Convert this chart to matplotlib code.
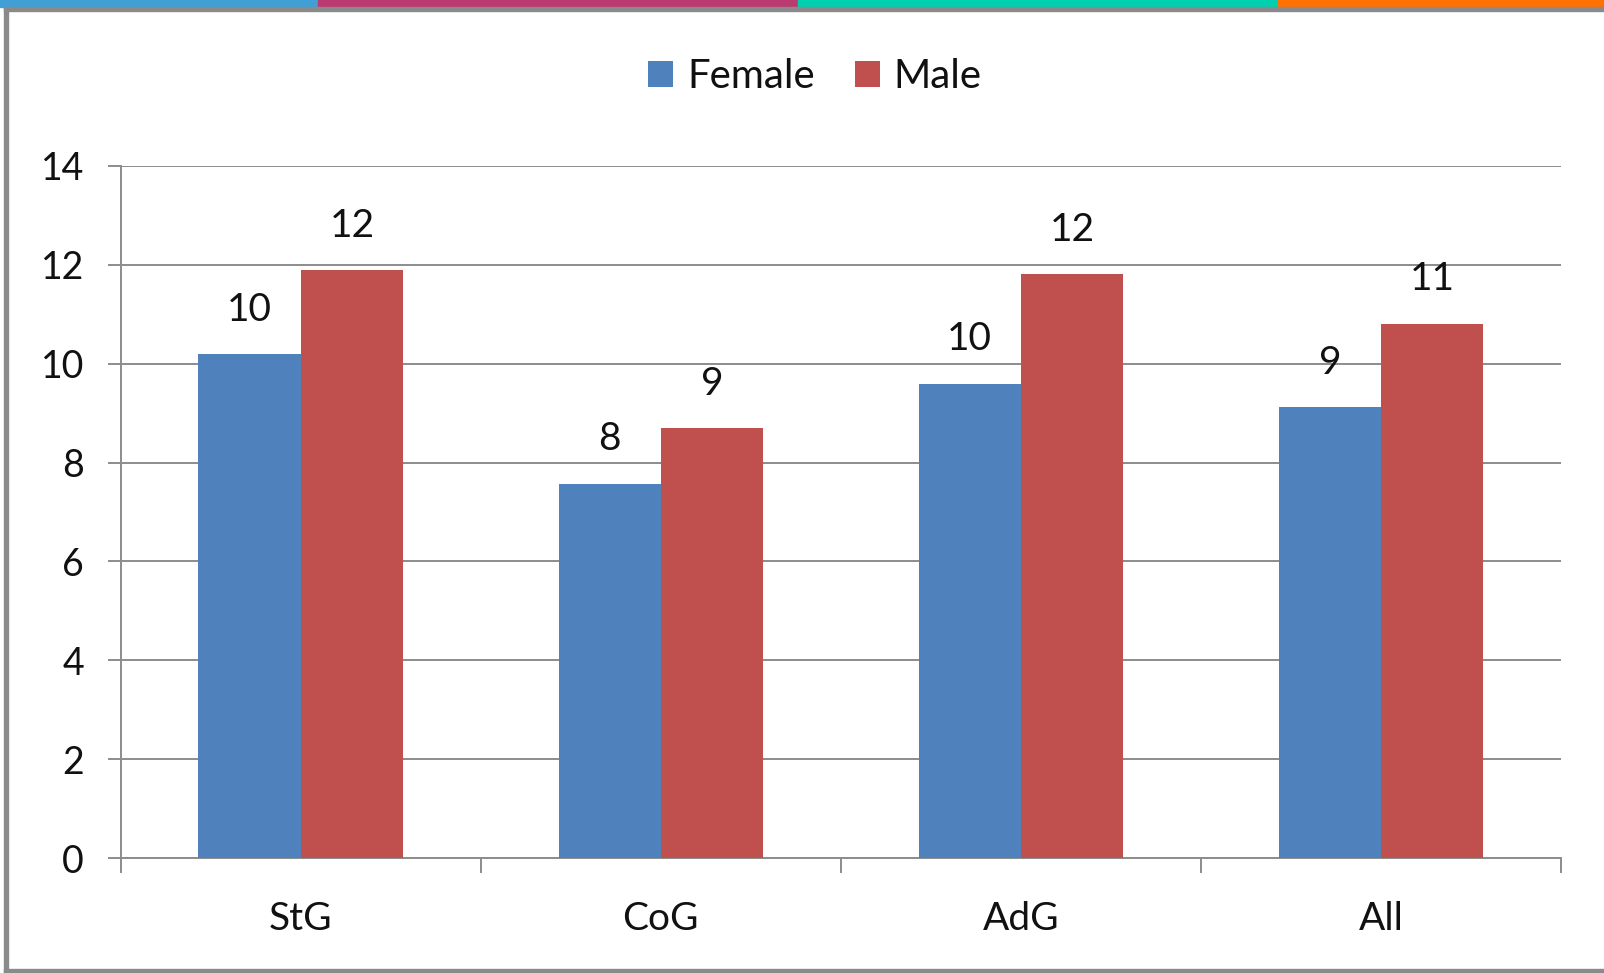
import matplotlib
matplotlib.use("Agg")
import matplotlib.pyplot as plt
from matplotlib.patches import Rectangle
import numpy as np

categories = ["StG", "CoG", "AdG", "All"]
female = [10.19, 7.57, 9.59, 9.12]
male = [11.89, 8.69, 11.81, 10.81]
series_names = ["Female", "Male"]
yticks = [0, 2, 4, 6, 8, 10, 12, 14]

plt.rcParams['font.family'] = ['Lato', 'DejaVu Sans']

W, H = 1604, 973
fig = plt.figure(figsize=(W / 100, H / 100), dpi=100)
fig.patch.set_facecolor("white")

# top colour strip
strip = [(0, 318, "#40A0D6"), (318, 798, "#BB3A6F"), (798, 1278, "#00CFB0"), (1278, 1604, "#FF7100")]
for x0, x1, c in strip:
    fig.patches.append(Rectangle((x0 / W, 1 - 7 / H), (x1 - x0) / W, 7 / H,
                                 transform=fig.transFigure, color=c, zorder=5))
# frame borders (left, top, bottom)
gray = "#8A8A8A"
fig.patches.append(Rectangle((4 / W, 0), 4 / W, 1 - 7 / H, transform=fig.transFigure, color=gray, zorder=5))
fig.patches.append(Rectangle((4 / W, 1 - 11 / H), 1 - 4 / W, 4 / H, transform=fig.transFigure, color=gray, zorder=5))
fig.patches.append(Rectangle((4 / W, 0), 1 - 4 / W, 4 / H, transform=fig.transFigure, color=gray, zorder=5))

left, right = 120.7 / W, 1561 / W
bottom, top = 1 - 858.3 / H, 1 - 165.7 / H
ax = fig.add_axes([left, bottom, right - left, top - bottom])

x = np.arange(len(categories))
bw = 0.284
b1 = ax.bar(x - bw / 2, female, bw, color="#4F81BD", label=series_names[0], zorder=3)
b2 = ax.bar(x + bw / 2, male, bw, color="#C0504D", label=series_names[1], zorder=3)
for b in (b1, b2):
    ax.bar_label(b, fmt="%.0f", padding=19, fontsize=28, color="#111111")

ax.set_xlim(-0.5, len(categories) - 0.5)
ax.set_ylim(0, 14)
ax.set_yticks(yticks)
ax.yaxis.grid(True, color="#8C8C8C", linewidth=1.4, zorder=0)
ax.set_axisbelow(True)

for s in ["top", "right"]:
    ax.spines[s].set_visible(False)
ax.spines["left"].set_color("#8C8C8C")
ax.spines["bottom"].set_color("#8C8C8C")
ax.spines["left"].set_linewidth(1.4)
ax.spines["bottom"].set_linewidth(1.4)

ax.tick_params(axis="y", length=9.5, width=1.4, color="#8C8C8C", pad=17, labelsize=27, labelcolor="#111111")
# x: major ticks at boundaries (marks), labels at centers (minor)
ax.set_xticks(np.arange(-0.5, len(categories), 1.0))
ax.set_xticklabels([])
ax.set_xticks(x, minor=True)
ax.set_xticklabels(categories, minor=True)
ax.tick_params(axis="x", which="major", length=11, width=1.4, color="#8C8C8C")
ax.tick_params(axis="x", which="minor", length=0, pad=31, labelsize=28, labelcolor="#111111")

leg = fig.legend(loc="center", bbox_to_anchor=(0.508, 1 - 77 / H), ncol=2, frameon=False,
                 fontsize=29, handlelength=0.62, handleheight=0.62, handletextpad=0.35,
                 columnspacing=1.0)
for t in leg.get_texts():
    t.set_color("#111111")

fig.savefig("out.png", dpi=100, facecolor="white")
